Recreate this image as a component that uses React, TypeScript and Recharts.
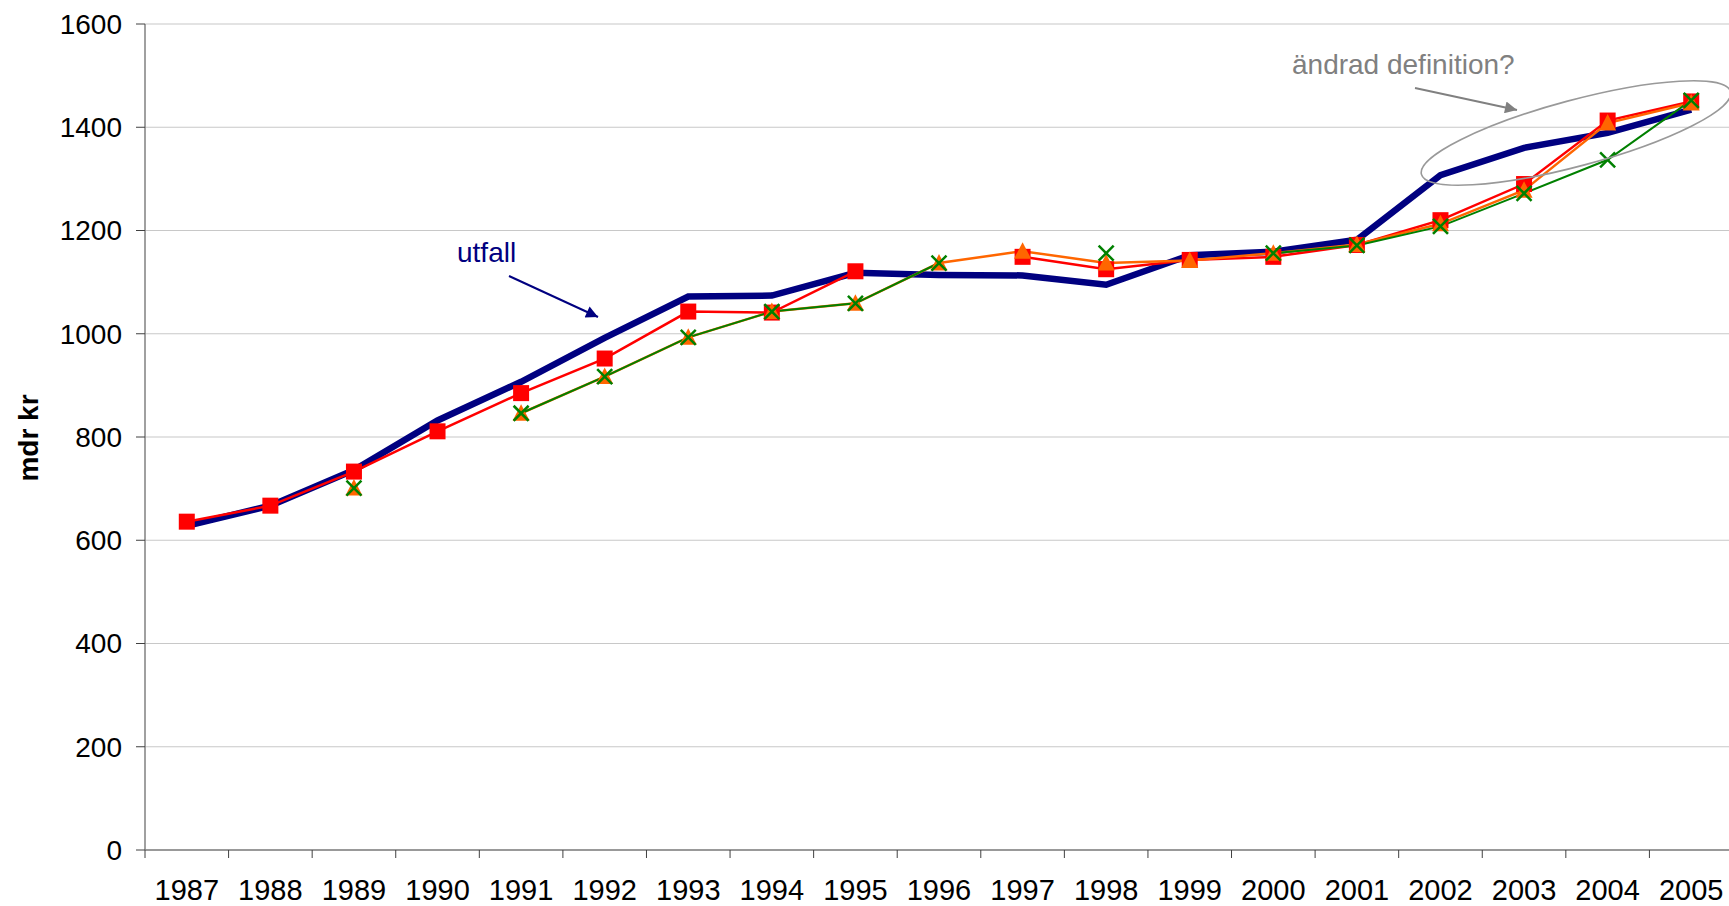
import { LineChart, Line, XAxis, YAxis, CartesianGrid } from 'recharts'

// Årtal och serier (mdr kr)
const YEARS = ['1987', '1988', '1989', '1990', '1991', '1992', '1993', '1994', '1995', '1996',
  '1997', '1998', '1999', '2000', '2001', '2002', '2003', '2004', '2005']
const UTFALL = [628, 667, 736, 832, 907, 992, 1072, 1074, 1118, 1114, 1113, 1095, 1152, 1159, 1182, 1307, 1360, 1389, 1434]
const PROGNOS_A = [636, 667, 733, 811, 885, 952, 1043, 1041, 1121, null, 1149, 1125, 1143, 1149, 1172, 1220, 1290, 1413, 1450]
const PROGNOS_B = [null, null, 701, null, 846, 917, 993, 1043, 1059, 1137, 1160, 1137, 1142, 1156, 1173, 1213, 1278, 1408, 1447]
const PROGNOS_C = [null, null, 701, null, 846, 917, 993, 1043, 1059, 1137, null, 1156, null, 1156, 1171, 1208, 1272, 1337, 1452]
const Y_TICKS = [0, 200, 400, 600, 800, 1000, 1200, 1400, 1600]

const data = YEARS.map((year, i) => ({
  i, year,
  utfall: UTFALL[i], a: PROGNOS_A[i], b: PROGNOS_B[i], c: PROGNOS_C[i],
}))

const AXIS = '#808080'
const NAVY = '#000080'
const RED = '#ff0000'
const ORANGE = '#ff6600'
const GREEN = '#008000'

type DotProps = { cx?: number | null; cy?: number | null; index?: number; value?: number | null }

function Square({ cx, cy, index, value }: DotProps) {
  if (cx == null || cy == null || value == null) return <g key={`s${index}`} />
  return <rect key={`s${index}`} x={cx - 8} y={cy - 8} width={16} height={16} fill={RED} />
}
function Triangle({ cx, cy, index, value }: DotProps) {
  if (cx == null || cy == null || value == null) return <g key={`t${index}`} />
  return <polygon key={`t${index}`} points={`${cx},${cy - 9} ${cx + 8.5},${cy + 7.5} ${cx - 8.5},${cy + 7.5}`} fill={ORANGE} />
}
function Cross({ cx, cy, index, value }: DotProps) {
  if (cx == null || cy == null || value == null) return <g key={`x${index}`} />
  const h = 7.5
  return (
    <g key={`x${index}`} stroke={GREEN} strokeWidth={2.5}>
      <line x1={cx - h} y1={cy - h} x2={cx + h} y2={cy + h} />
      <line x1={cx - h} y1={cy + h} x2={cx + h} y2={cy - h} />
    </g>
  )
}

function YearTick({ x, y, payload }: { x?: number; y?: number; payload?: { value: number } }) {
  if (x == null || y == null || !payload) return <g />
  return (
    <text x={x} y={y + 49} textAnchor="middle" fontSize={29} fill="#000">
      {YEARS[payload.value]}
    </text>
  )
}

export default function App() {
  return (
    <div style={{
      position: 'absolute', left: 0, top: 0, width: 1729, height: 906, overflow: 'hidden',
      background: '#fff', fontFamily: '"Liberation Sans", Arial, sans-serif',
    }}>
      <LineChart width={1737} height={906} data={data} margin={{ top: 24, right: 4, bottom: 0, left: 0 }}>
        <CartesianGrid vertical={false} stroke="#c8c8c8" strokeWidth={1.2} />
        {/* category separators: ticks sit between the years */}
        <XAxis
          type="number" dataKey="i" domain={[-0.5, 18.5]}
          ticks={YEARS.map((_, i) => i - 0.5)} tick={() => <g />} tickSize={8} height={1}
          interval={0} axisLine={{ stroke: AXIS, strokeWidth: 1.5 }} tickLine={{ stroke: '#404040' }}
        />
        <XAxis
          xAxisId="years" type="number" dataKey="i" domain={[-0.5, 18.5]} ticks={YEARS.map((_, i) => i)} interval={0}
          tick={<YearTick />} tickSize={0} tickMargin={0} axisLine={false} tickLine={false} height={55}
        />
        <YAxis
          domain={[0, 1600]} ticks={Y_TICKS} width={145} tickSize={9} tickMargin={14}
          axisLine={{ stroke: AXIS, strokeWidth: 1.5 }} tickLine={{ stroke: '#404040' }}
          tick={{ fontSize: 28, fill: '#000' }}
        />
        <Line xAxisId="years" dataKey="utfall" name="utfall" stroke={NAVY} strokeWidth={6.5} dot={false} activeDot={false} isAnimationActive={false} />
        <Line xAxisId="years" dataKey="a" name="prognos A" stroke={RED} strokeWidth={2.5} dot={Square} activeDot={false} isAnimationActive={false} />
        <Line xAxisId="years" dataKey="b" name="prognos B" stroke={ORANGE} strokeWidth={2.5} dot={Triangle} activeDot={false} isAnimationActive={false} />
        <Line xAxisId="years" dataKey="c" name="prognos C" stroke={GREEN} strokeWidth={2} dot={Cross} activeDot={false} isAnimationActive={false} />
      </LineChart>

      {/* annotations drawn over the plot */}
      <svg width={1729} height={906} style={{ position: 'absolute', left: 0, top: 0, pointerEvents: 'none' }}>
        <defs>
          <marker id="headNavy" viewBox="0 0 10 10" refX="10" refY="5" markerWidth="16" markerHeight="12"
            markerUnits="userSpaceOnUse" orient="auto">
            <path d="M0,0 L10,5 L0,10 z" fill={NAVY} />
          </marker>
          <marker id="headGray" viewBox="0 0 10 10" refX="10" refY="5" markerWidth="16" markerHeight="12"
            markerUnits="userSpaceOnUse" orient="auto">
            <path d="M0,0 L10,5 L0,10 z" fill="#808080" />
          </marker>
        </defs>
        <text x={28} y={438} transform="rotate(-90 28 438)" textAnchor="middle" dominantBaseline="central"
          fontSize={28} fontWeight="bold" fill="#000">mdr kr</text>
        <text x={457} y={262} fontSize={28} fill={NAVY}>utfall</text>
        <line x1={509} y1={276} x2={598} y2={317} stroke={NAVY} strokeWidth={2} markerEnd="url(#headNavy)" />
        <text x={1292} y={74} fontSize={28} fill="#808080">ändrad definition?</text>
        <line x1={1415} y1={88} x2={1517} y2={110} stroke="#808080" strokeWidth={2} markerEnd="url(#headGray)" />
        <ellipse cx={1576} cy={133} rx={160} ry={33} transform="rotate(-15 1576 133)"
          fill="none" stroke="#999" strokeWidth={1.6} />
      </svg>
    </div>
  )
}
